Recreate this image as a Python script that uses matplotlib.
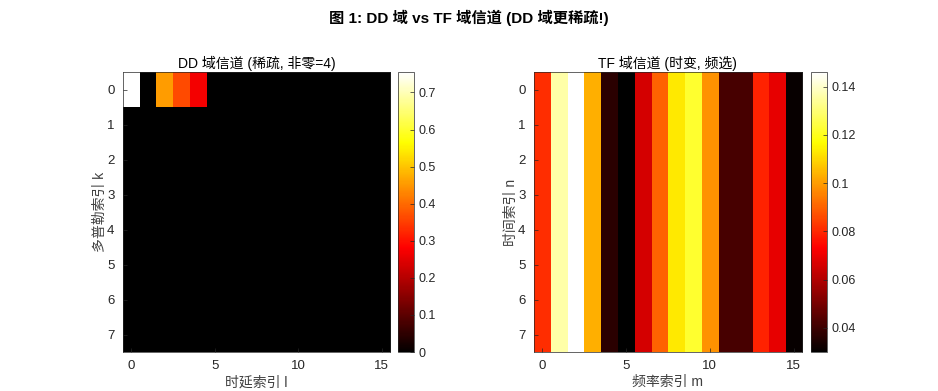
import numpy as np
import matplotlib.pyplot as plt
from matplotlib.colors import ListedColormap

plt.rcParams['font.family'] = ['Liberation Sans', 'Noto Sans CJK SC', 'DejaVu Sans']
plt.rcParams['axes.unicode_minus'] = False

# DD domain: 8 Doppler rows x 16 delay cols, only 4 non-zero taps in row 0
dd_taps_col = [0, 2, 3, 4]
dd_taps_val = [0.755, 0.455, 0.365, 0.27]

# TF domain: each frequency column is constant over time
tf_col_vals = [0.081, 0.136, 0.146, 0.103, 0.037, 0.030, 0.066, 0.090,
               0.113, 0.122, 0.098, 0.042, 0.042, 0.079, 0.069, 0.031]

n_rows, n_cols = 8, 16
dd = np.zeros((n_rows, n_cols))
dd[0, dd_taps_col] = dd_taps_val
tf = np.tile(np.array(tf_col_vals), (n_rows, 1))

# matlab-style hot(256), starts at pure black
m = 256
n = int(3 / 8 * m)
r = np.concatenate([np.arange(1, n + 1) / n, np.ones(m - n)])
g = np.concatenate([np.zeros(n), np.arange(1, n + 1) / n, np.ones(m - 2 * n)])
b = np.concatenate([np.zeros(2 * n), np.arange(1, m - 2 * n + 1) / (m - 2 * n)])
rgb = np.stack([r, g, b], axis=1)
rgb[0] = [0, 0, 0]
hot = ListedColormap(rgb)

fig = plt.figure(figsize=(9.38, 3.91), dpi=100)

ax1 = fig.add_axes([0.131, 0.0997, 0.285, 0.716])
cax1 = fig.add_axes([0.4243, 0.0997, 0.017, 0.716])
ax2 = fig.add_axes([0.569, 0.0997, 0.286, 0.716])
cax2 = fig.add_axes([0.8645, 0.0997, 0.017, 0.716])

gray = '#262626'

def style(ax, title, xlabel, ylabel):
    ax.set_title(title, fontsize=10, color='black', pad=3)
    ax.set_xlabel(xlabel, fontsize=10, color='#404040', labelpad=2)
    ax.set_ylabel(ylabel, fontsize=10, color='#404040', labelpad=0)
    ax.set_xticks([0, 5, 10, 15])
    ax.set_yticks(range(n_rows))
    ax.tick_params(direction='in', length=3, width=0.5, labelsize=9.5,
                   colors=gray, top=False, right=False, pad=6)
    for s in ax.spines.values():
        s.set_color(gray)
        s.set_linewidth(0.5)

im1 = ax1.imshow(dd, cmap=hot, aspect='auto', interpolation='nearest',
                 vmin=0, vmax=max(dd_taps_val))
style(ax1, 'DD 域信道 (稀疏, 非零=4)', '时延索引 l', '多普勒索引 k')

im2 = ax2.imshow(tf, cmap=hot, aspect='auto', interpolation='nearest',
                 vmin=min(tf_col_vals), vmax=max(tf_col_vals))
style(ax2, 'TF 域信道 (时变, 频选)', '频率索引 m', '时间索引 n')

cb1 = fig.colorbar(im1, cax=cax1, ticks=np.arange(0, 0.75, 0.1))
cb2 = fig.colorbar(im2, cax=cax2, ticks=[0.04, 0.06, 0.08, 0.1, 0.12, 0.14])
cb2.ax.set_yticklabels(['0.04', '0.06', '0.08', '0.1', '0.12', '0.14'])
cb1.ax.set_yticklabels(['0', '0.1', '0.2', '0.3', '0.4', '0.5', '0.6', '0.7'])
for cb in (cb1, cb2):
    cb.ax.tick_params(direction='in', length=3, width=0.5, labelsize=9,
                      colors=gray)
    cb.outline.set_edgecolor(gray)
    cb.outline.set_linewidth(0.5)

fig.suptitle('图 1: DD 域 vs TF 域信道 (DD 域更稀疏!)', fontsize=11,
             fontweight='bold', y=0.975)

plt.savefig('out.png', dpi=100)
